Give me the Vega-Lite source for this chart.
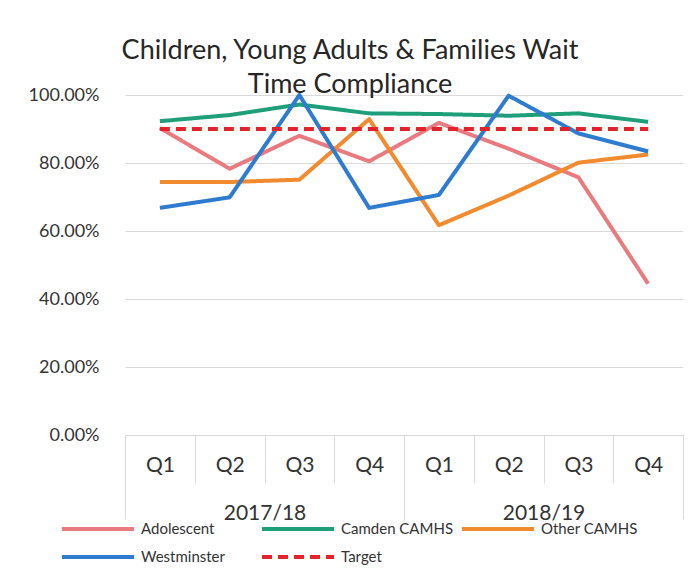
{
  "$schema": "https://vega.github.io/schema/vega-lite/v6.json",
  "autosize": {"type": "none"},
  "width": 558,
  "height": 340,
  "padding": {"left": 125, "top": 95, "right": 11, "bottom": 148},
  "background": "white",
  "config": {
    "font": "Lato",
    "view": {"stroke": null},
    "axis": {"labelFont": "Lato", "labelColor": "#333333"}
  },
  "title": {
    "text": ["Children, Young Adults & Families Wait", "Time Compliance"],
    "fontSize": 27,
    "fontWeight": "normal",
    "font": "Lato",
    "color": "#262626",
    "anchor": "middle",
    "frame": "group",
    "dx": -54,
    "offset": -13,
    "lineHeight": 34
  },
  "data": {
    "values": [
      {"period": "2017/18 Q1", "year": "2017/18", "series": "Adolescent", "value": 0.903},
      {"period": "2017/18 Q2", "year": "2017/18", "series": "Adolescent", "value": 0.783},
      {"period": "2017/18 Q3", "year": "2017/18", "series": "Adolescent", "value": 0.88},
      {"period": "2017/18 Q4", "year": "2017/18", "series": "Adolescent", "value": 0.805},
      {"period": "2018/19 Q1", "year": "2018/19", "series": "Adolescent", "value": 0.918},
      {"period": "2018/19 Q2", "year": "2018/19", "series": "Adolescent", "value": 0.842},
      {"period": "2018/19 Q3", "year": "2018/19", "series": "Adolescent", "value": 0.758},
      {"period": "2018/19 Q4", "year": "2018/19", "series": "Adolescent", "value": 0.445},
      {"period": "2017/18 Q1", "year": "2017/18", "series": "Camden CAMHS", "value": 0.923},
      {"period": "2017/18 Q2", "year": "2017/18", "series": "Camden CAMHS", "value": 0.941},
      {"period": "2017/18 Q3", "year": "2017/18", "series": "Camden CAMHS", "value": 0.972},
      {"period": "2017/18 Q4", "year": "2017/18", "series": "Camden CAMHS", "value": 0.946},
      {"period": "2018/19 Q1", "year": "2018/19", "series": "Camden CAMHS", "value": 0.944},
      {"period": "2018/19 Q2", "year": "2018/19", "series": "Camden CAMHS", "value": 0.939},
      {"period": "2018/19 Q3", "year": "2018/19", "series": "Camden CAMHS", "value": 0.946},
      {"period": "2018/19 Q4", "year": "2018/19", "series": "Camden CAMHS", "value": 0.921},
      {"period": "2017/18 Q1", "year": "2017/18", "series": "Other CAMHS", "value": 0.744},
      {"period": "2017/18 Q2", "year": "2017/18", "series": "Other CAMHS", "value": 0.744},
      {"period": "2017/18 Q3", "year": "2017/18", "series": "Other CAMHS", "value": 0.751},
      {"period": "2017/18 Q4", "year": "2017/18", "series": "Other CAMHS", "value": 0.929},
      {"period": "2018/19 Q1", "year": "2018/19", "series": "Other CAMHS", "value": 0.617},
      {"period": "2018/19 Q2", "year": "2018/19", "series": "Other CAMHS", "value": 0.704},
      {"period": "2018/19 Q3", "year": "2018/19", "series": "Other CAMHS", "value": 0.801},
      {"period": "2018/19 Q4", "year": "2018/19", "series": "Other CAMHS", "value": 0.825},
      {"period": "2017/18 Q1", "year": "2017/18", "series": "Westminster", "value": 0.668},
      {"period": "2017/18 Q2", "year": "2017/18", "series": "Westminster", "value": 0.699},
      {"period": "2017/18 Q3", "year": "2017/18", "series": "Westminster", "value": 1.0},
      {"period": "2017/18 Q4", "year": "2017/18", "series": "Westminster", "value": 0.668},
      {"period": "2018/19 Q1", "year": "2018/19", "series": "Westminster", "value": 0.706},
      {"period": "2018/19 Q2", "year": "2018/19", "series": "Westminster", "value": 0.998},
      {"period": "2018/19 Q3", "year": "2018/19", "series": "Westminster", "value": 0.887},
      {"period": "2018/19 Q4", "year": "2018/19", "series": "Westminster", "value": 0.834},
      {"period": "2017/18 Q1", "year": "2017/18", "series": "Target", "value": 0.9},
      {"period": "2017/18 Q2", "year": "2017/18", "series": "Target", "value": 0.9},
      {"period": "2017/18 Q3", "year": "2017/18", "series": "Target", "value": 0.9},
      {"period": "2017/18 Q4", "year": "2017/18", "series": "Target", "value": 0.9},
      {"period": "2018/19 Q1", "year": "2018/19", "series": "Target", "value": 0.9},
      {"period": "2018/19 Q2", "year": "2018/19", "series": "Target", "value": 0.9},
      {"period": "2018/19 Q3", "year": "2018/19", "series": "Target", "value": 0.9},
      {"period": "2018/19 Q4", "year": "2018/19", "series": "Target", "value": 0.9}
    ]
  },
  "layer": [
    {
      "mark": {"type": "line", "strokeJoin": "round", "strokeCap": "butt"},
      "encoding": {
        "x": {
          "field": "period",
          "type": "ordinal",
          "sort": null,
          "bandPosition": 0.5,
          "scale": {"type": "band", "paddingInner": 0, "paddingOuter": 0},
          "axis": {
            "orient": "bottom",
            "title": null,
            "labelExpr": "split(datum.value, ' ')[1]",
            "labelAngle": 0,
            "labelFontSize": 21,
            "labelBaseline": "middle",
            "labelPadding": -18,
            "ticks": true,
            "tickBand": "extent",
            "tickSize": 48,
            "tickColor": "#D9D9D9",
            "domain": true,
            "domainColor": "#D9D9D9",
            "grid": false
          }
        },
        "y": {
          "field": "value",
          "type": "quantitative",
          "scale": {"domain": [0, 1], "nice": false},
          "axis": {
            "title": null,
            "format": ".2%",
            "values": [0, 0.2, 0.4, 0.6, 0.8, 1.0],
            "labelFontSize": 18,
            "labelPadding": 26,
            "ticks": false,
            "domain": false,
            "grid": true,
            "gridColor": "#D9D9D9",
            "gridWidth": 1
          }
        },
        "color": {
          "field": "series",
          "type": "nominal",
          "scale": {
            "domain": ["Adolescent", "Camden CAMHS", "Other CAMHS", "Westminster", "Target"],
            "range": ["#E97A80", "#1F9E7A", "#F28A30", "#2E7BCF", "#E5222B"]
          },
          "legend": {
            "title": null,
            "orient": "none",
            "legendX": -39,
            "legendY": 422,
            "direction": "horizontal",
            "columns": 3,
            "gridAlign": "all",
            "columnPadding": 0,
            "rowPadding": 8,
            "symbolType": "M-3.6,0H3.6",
            "symbolSize": 400,
            "symbolStrokeWidth": 4,
            "labelOffset": 31,
            "labelFontSize": 15,
            "labelFont": "Lato",
            "labelColor": "#333333",
            "labelLimit": 200
          }
        },
        "strokeDash": {
          "field": "series",
          "type": "nominal",
          "scale": {
            "domain": ["Adolescent", "Camden CAMHS", "Other CAMHS", "Westminster", "Target"],
            "range": [[1, 0], [1, 0], [1, 0], [1, 0], [10, 6]]
          },
          "legend": {
            "title": null,
            "orient": "none",
            "legendX": -39,
            "legendY": 422,
            "direction": "horizontal",
            "columns": 3,
            "gridAlign": "all",
            "columnPadding": 0,
            "rowPadding": 8,
            "symbolType": "M-3.6,0H3.6",
            "symbolSize": 400,
            "symbolStrokeWidth": 4,
            "labelOffset": 31,
            "labelFontSize": 15,
            "labelFont": "Lato",
            "labelColor": "#333333",
            "labelLimit": 200
          }
        },
        "strokeWidth": {"value": 4}
      }
    },
    {
      "mark": {"type": "point", "opacity": 0},
      "encoding": {
        "x": {
          "field": "year",
          "type": "ordinal",
          "sort": null,
          "scale": {"type": "band", "paddingInner": 0, "paddingOuter": 0},
          "axis": {
            "orient": "bottom",
            "offset": 0,
            "title": null,
            "labelAngle": 0,
            "labelFontSize": 21,
            "labelBaseline": "middle",
            "labelPadding": -6,
            "ticks": true,
            "tickBand": "extent",
            "tickSize": 84,
            "tickColor": "#D9D9D9",
            "domain": false,
            "grid": false
          }
        },
        "y": {"field": "value", "type": "quantitative"}
      }
    }
  ],
  "resolve": {"scale": {"x": "independent"}}
}
